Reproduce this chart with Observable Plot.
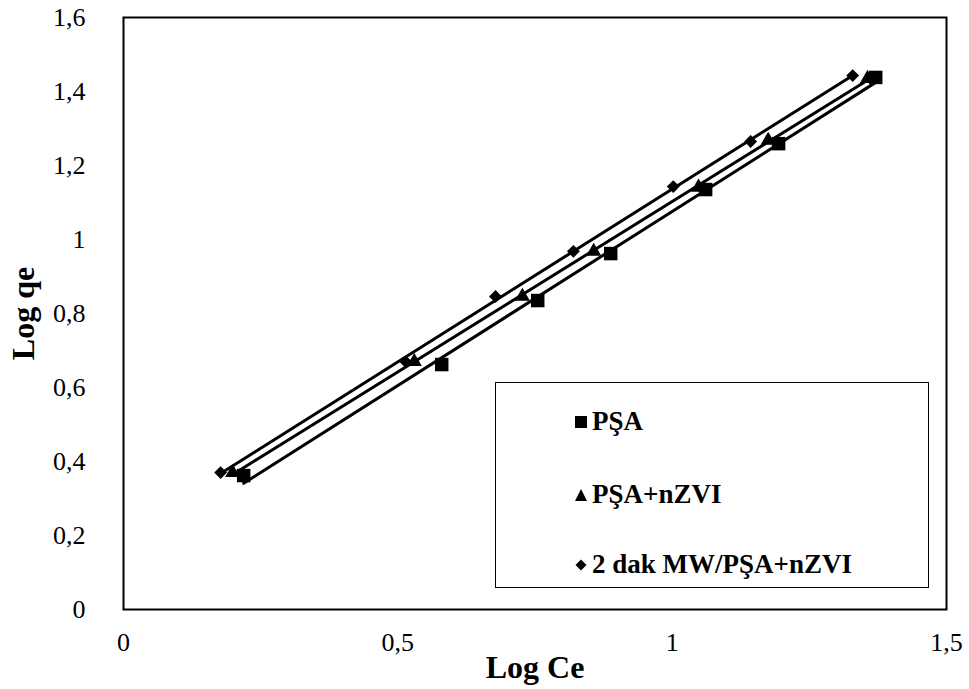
<!DOCTYPE html>
<html>
<head>
<meta charset="utf-8">
<script src="https://cdn.jsdelivr.net/npm/d3@7"></script>
<script src="https://cdn.jsdelivr.net/npm/@observablehq/plot@0.6"></script>
<style>
  body { margin: 0; background: #fff; }
  #chart { position: relative; width: 969px; height: 689px; font-family: "Liberation Serif", "Times New Roman", serif; }
  #chart svg { display: block; }
  #chart svg g[aria-label$="tick label"], #chart svg g[aria-label$="tick label"] text { font-size: 26px !important; }
  #chart svg g[aria-label="x-axis label"] text, #chart svg g[aria-label="y-axis label"] text { font-weight: bold; font-size: 32px; }
  .legend { position: absolute; left: 495px; top: 382px; width: 432px; height: 204px; border: 1.5px solid #000; background: #fff; }
  .legend .item { position: absolute; left: 78px; display: flex; align-items: center; font-family: "Liberation Serif", "Times New Roman", serif; font-weight: bold; font-size: 27px; color: #000; line-height: 1; }
  .legend .item svg { margin-right: 4px; }
</style>
</head>
<body>
<div id="chart"></div>
<script>
// Freundlich isotherm, linearised: Log qe versus Log Ce for three adsorbents
const seriesNames = ["PŞA", "PŞA+nZVI", "2 dak MW/PŞA+nZVI"];

const psaLogCe = [0.219, 0.580, 0.755, 0.888, 1.061, 1.194, 1.371];
const psaLogQe = [0.362, 0.662, 0.835, 0.962, 1.135, 1.259, 1.438];

const nzviLogCe = [0.199, 0.530, 0.727, 0.857, 1.048, 1.175, 1.356];
const nzviLogQe = [0.370, 0.670, 0.846, 0.968, 1.141, 1.268, 1.435];

const mwLogCe = [0.177, 0.514, 0.678, 0.820, 1.002, 1.143, 1.329];
const mwLogQe = [0.370, 0.670, 0.846, 0.968, 1.143, 1.265, 1.443];

const xTicks = [0, 0.5, 1, 1.5];
const yTicks = [0, 0.2, 0.4, 0.6, 0.8, 1, 1.2, 1.4, 1.6];

const symbols = {"PŞA": "square", "PŞA+nZVI": "triangle", "2 dak MW/PŞA+nZVI": "diamond2"};
const radii = {"PŞA": 7.6, "PŞA+nZVI": 5.6, "2 dak MW/PŞA+nZVI": 5.8};

const table = [
  ...psaLogCe.map((x, i) => ({series: seriesNames[0], x, y: psaLogQe[i]})),
  ...nzviLogCe.map((x, i) => ({series: seriesNames[1], x, y: nzviLogQe[i]})),
  ...mwLogCe.map((x, i) => ({series: seriesNames[2], x, y: mwLogQe[i]}))
];

const comma = d => String(d).replace(".", ",");

const plot = Plot.plot({
  width: 969,
  height: 689,
  marginLeft: 123,
  marginRight: 23,
  marginTop: 17,
  marginBottom: 80,
  style: {fontFamily: "'Liberation Serif', 'Times New Roman', serif", fontSize: "24px", color: "#000", background: "#fff"},
  x: {domain: [0, 1.5]},
  y: {domain: [0, 1.6]},
  marks: [
    Plot.frame({stroke: "#000", strokeWidth: 2}),
    Plot.axisX({ticks: xTicks, tickSize: 0, tickPadding: 23, tickFormat: comma,
      label: "Log Ce", labelAnchor: "center", labelArrow: "none", labelOffset: 68}),
    Plot.axisY({ticks: yTicks, tickSize: 0, tickPadding: 38, tickFormat: comma,
      label: "Log qe", labelAnchor: "center", labelArrow: "none", labelOffset: 112}),
    ...seriesNames.map(name => Plot.linearRegressionY(table.filter(d => d.series === name),
      {x: "x", y: "y", stroke: "#000", strokeWidth: 3, ci: 0})),
    ...seriesNames.map(name => Plot.dot(table.filter(d => d.series === name),
      {x: "x", y: "y", symbol: () => symbols[name], r: radii[name], fill: "#000", stroke: "none"}))
  ]
});

const chart = document.getElementById("chart");
chart.appendChild(plot);

// legend box
const legendTops = [38, 111, 181];
const legendShapes = {
  "PŞA": '<rect x="1" y="1" width="12" height="12" fill="#000"/>',
  "PŞA+nZVI": '<path d="M7 1 L13 13 L1 13 Z" fill="#000"/>',
  "2 dak MW/PŞA+nZVI": '<path d="M7 1.5 L12.5 7 L7 12.5 L1.5 7 Z" fill="#000"/>'
};
const legend = document.createElement("div");
legend.className = "legend";
seriesNames.forEach((name, i) => {
  const item = document.createElement("div");
  item.className = "item";
  item.style.top = (legendTops[i] - 13) + "px";
  item.innerHTML = `<svg width="14" height="14" viewBox="0 0 14 14">${legendShapes[name]}</svg><span>${name}</span>`;
  legend.appendChild(item);
});
chart.appendChild(legend);
</script>
</body>
</html>
